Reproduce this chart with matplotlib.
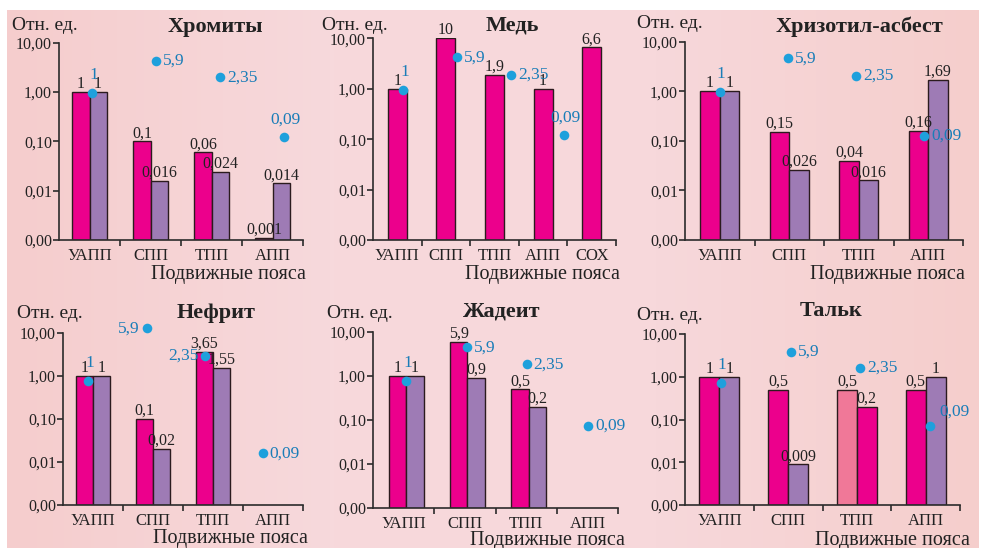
import numpy as np
import matplotlib
matplotlib.use("Agg")
import matplotlib.pyplot as plt
from matplotlib.colors import LinearSegmentedColormap
from matplotlib.ticker import FixedLocator, NullFormatter

plt.rcParams['font.family'] = ['Liberation Serif', 'DejaVu Serif']

# ---------------- data ----------------
belts4 = ['УАПП', 'СПП', 'ТПП', 'АПП']
belts5 = ['УАПП', 'СПП', 'ТПП', 'АПП', 'СОХ']
dot_labels = ['1', '5,9', '2,35', '0,09']
ytick_vals = [0.001, 0.01, 0.1, 1, 10]
ytick_lbls = ['0,00', '0,01', '0,10', '1,00', '10,00']

# Хромиты
chrom_a = [1, 0.1, 0.06, 0.0011]
chrom_a_lbl = ['1', '0,1', '0,06', '0,001']
chrom_b = [1, 0.016, 0.024, 0.014]
chrom_b_lbl = ['1', '0,016', '0,024', '0,014']
chrom_dot = [0.95, 4.3, 2.0, 0.123]
chrom_dot_dx = [0.04, 0.09, 0.14, 0.19]

# Медь
cu_a = [1, 10, 1.9, 1, 6.6]
cu_a_lbl = ['1', '10', '1,9', '1', '6,6']
cu_dot = [0.94, 4.2, 1.9, 0.12]
cu_dot_dx = [0.12, 0.23, 0.34, 0.43]

# Хризотил-асбест
chr_a = [1, 0.15, 0.04, 0.16]
chr_a_lbl = ['1', '0,15', '0,04', '0,16']
chr_b = [1, 0.026, 0.016, 1.69]
chr_b_lbl = ['1', '0,026', '0,016', '1,69']
chr_dot = [0.98, 4.6, 2.04, 0.126]
chr_dot_dx = [0.0, -0.02, -0.04, -0.06]

# Нефрит
neph_a = [1, 0.1, 3.65, None]
neph_a_lbl = ['1', '0,1', '3,65', '']
neph_b = [1, 0.02, 1.55, None]
neph_b_lbl = ['1', '0,02', '1,55', '']
neph_dot = [0.77, 12.8, 2.92, 0.016]
neph_dot_dx = [-0.08, -0.10, -0.13, -0.17]

# Жадеит
jad_a = [1, 5.9, 0.5, None]
jad_a_lbl = ['1', '5,9', '0,5', '']
jad_b = [1, 0.9, 0.2, None]
jad_b_lbl = ['1', '0,9', '0,2', '']
jad_dot = [0.78, 4.5, 1.84, 0.074]
jad_dot_dx = [0.04, 0.03, 0.01, 0.01]

# Тальк
talc_a = [1, 0.5, 0.5, 0.5]
talc_a_lbl = ['1', '0,5', '0,5', '0,5']
talc_b = [1, 0.009, 0.2, 1]
talc_b_lbl = ['1', '0,009', '0,2', '1']
talc_dot = [0.73, 3.86, 1.63, 0.072]
talc_dot_dx = [0.02, 0.04, 0.05, 0.06]

# ---------------- style ----------------
MAG = '#EC008C'
PUR = '#9E7BB5'
LPINK = '#F07898'
DOT = '#1EA0DC'
DOTTXT = '#1A7DB8'
EDGE = '#2B1B1E'
AXC = '#2B2B2B'
TXT = '#222222'

W, H = 984, 548
fig = plt.figure(figsize=(W / 100, H / 100), dpi=100)
fig.patch.set_facecolor('white')

# background gradient
bg = fig.add_axes([0, 0, 1, 1])
bg.set_xlim(0, W)
bg.set_ylim(H, 0)
bg.axis('off')
cmap = LinearSegmentedColormap.from_list('bgp', ['#F5CDCD', '#F7D9DC', '#F7D8DB', '#F5CECC'])
grad = np.linspace(0, 1, 256).reshape(1, -1)
bg.imshow(grad, cmap=cmap, extent=[7, 979, H, 10], aspect='auto', zorder=0)


def fx(x):
    return x / W


def fy(y):
    return 1 - y / H


def make_axes(l, r, t, b):
    ax = fig.add_axes([fx(l), fy(b), fx(r) - fx(l), fy(t) - fy(b)])
    ax.patch.set_alpha(0)
    return ax


def setup(ax, cats):
    n = len(cats)
    ax.set_yscale('log')
    ax.set_ylim(0.001, 10)
    ax.set_xlim(-0.5, n - 0.5)
    for s in ['top', 'right']:
        ax.spines[s].set_visible(False)
    for s in ['left', 'bottom']:
        ax.spines[s].set_color(AXC)
        ax.spines[s].set_linewidth(1.2)
    ax.yaxis.set_major_locator(FixedLocator(ytick_vals))
    ax.set_yticklabels(ytick_lbls)
    ax.yaxis.set_minor_locator(FixedLocator([]))
    ax.yaxis.set_minor_formatter(NullFormatter())
    ax.tick_params(axis='y', which='major', direction='out', length=4, width=1.2,
                   color=AXC, labelsize=11.5, pad=1, labelcolor=TXT)
    ax.set_xticks(range(n))
    ax.set_xticklabels(cats)
    ax.tick_params(axis='x', which='major', length=0, labelsize=12, pad=6,
                   labelcolor=TXT)
    ax.xaxis.set_minor_locator(FixedLocator([i + 0.5 for i in range(n)]))
    ax.tick_params(axis='x', which='minor', direction='out', length=4, width=1.2, color=AXC)


def bars(ax, vals, lbls, offset, width, colors):
    for i, (v, lb) in enumerate(zip(vals, lbls)):
        if v is None:
            continue
        c = colors[i] if isinstance(colors, list) else colors
        ax.bar(i + offset, v - 0.001, bottom=0.001, width=width, color=c,
               edgecolor=EDGE, linewidth=1.0, zorder=2)
        ax.annotate(lb, (i + offset, v), xytext=(0, 0), textcoords='offset points',
                    ha='center', va='bottom', fontsize=11.5, color=TXT,
                    annotation_clip=False, zorder=4)


def dots(ax, vals, dx, places):
    for i, (v, d, lb, p) in enumerate(zip(vals, dx, dot_labels, places)):
        ax.scatter([i + d], [v], s=48, color=DOT, zorder=5, clip_on=False, linewidths=0)
        if p == 'r':
            off, ha, va = (5, 0), 'left', 'center'
        elif p == 'a':
            off, ha, va = (1, 7), 'center', 'bottom'
        elif p == 'l':
            off, ha, va = (-5, 0), 'right', 'center'
        else:  # upper right
            off, ha, va = (7, 4), 'left', 'bottom'
        ax.annotate(lb, (i + d, v), xytext=off, textcoords='offset points',
                    ha=ha, va=va, fontsize=12.5, color=DOTTXT,
                    annotation_clip=False, zorder=6)


def labels(xl, yl, title, tx, ty, xlab_r, xlab_y):
    fig.text(fx(xl), fy(yl), 'Отн. ед.', fontsize=14, ha='left', va='center', color=TXT)
    fig.text(fx(tx), fy(ty), title, fontsize=16, fontweight='bold', ha='center',
             va='center', color=TXT)
    fig.text(fx(xlab_r), fy(xlab_y), 'Подвижные пояса', fontsize=14.5, ha='right',
             va='center', color=TXT)


# Panel 1 — Хромиты
ax1 = make_axes(59, 303, 42.7, 240)
setup(ax1, belts4)
bars(ax1, chrom_a, chrom_a_lbl, -0.14, 0.28, MAG)
bars(ax1, chrom_b, chrom_b_lbl, 0.14, 0.28, PUR)
dots(ax1, chrom_dot, chrom_dot_dx, ['a', 'r', 'r', 'a'])
labels(12, 25, 'Хромиты', 215, 27, 306, 274)

# Panel 2 — Медь
ax2 = make_axes(373, 616, 38.3, 240)
setup(ax2, belts5)
bars(ax2, cu_a, cu_a_lbl, 0.0, 0.39, MAG)
dots(ax2, cu_dot, cu_dot_dx, ['a', 'r', 'r', 'a'])
labels(322, 25, 'Медь', 512, 25, 620, 274)

# Panel 3 — Хризотил-асбест
ax3 = make_axes(685, 963, 41.7, 240)
setup(ax3, belts4)
bars(ax3, chr_a, chr_a_lbl, -0.14, 0.28, MAG)
bars(ax3, chr_b, chr_b_lbl, 0.14, 0.28, PUR)
dots(ax3, chr_dot, chr_dot_dx, ['a', 'r', 'r', 'r'])
labels(637, 24, 'Хризотил-асбест', 859, 27, 965, 274)

# Panel 4 — Нефрит
ax4 = make_axes(63, 303, 333, 505)
setup(ax4, belts4)
bars(ax4, neph_a, neph_a_lbl, -0.145, 0.29, MAG)
bars(ax4, neph_b, neph_b_lbl, 0.145, 0.29, PUR)
dots(ax4, neph_dot, neph_dot_dx, ['a', 'l', 'l', 'r'])
labels(17, 313, 'Нефрит', 216, 313, 308, 539)

# Panel 5 — Жадеит
ax5 = make_axes(373, 618, 332, 508)
setup(ax5, belts4)
bars(ax5, jad_a, jad_a_lbl, -0.1, 0.285, MAG)
bars(ax5, jad_b, jad_b_lbl, 0.185, 0.285, PUR)
dots(ax5, jad_dot, jad_dot_dx, ['a', 'r', 'r', 'r'])
labels(327, 313, 'Жадеит', 502, 311, 625, 540)

# Panel 6 — Тальк
ax6 = make_axes(685, 960, 334, 505)
setup(ax6, belts4)
bars(ax6, talc_a, talc_a_lbl, -0.145, 0.29, [MAG, MAG, LPINK, MAG])
bars(ax6, talc_b, talc_b_lbl, 0.145, 0.29, [PUR, PUR, MAG, PUR])
dots(ax6, talc_dot, talc_dot_dx, ['a', 'r', 'r', 'ur'])
labels(637, 315, 'Тальк', 831, 311, 970, 540)

fig.savefig('out.png', dpi=100, facecolor=fig.get_facecolor())
